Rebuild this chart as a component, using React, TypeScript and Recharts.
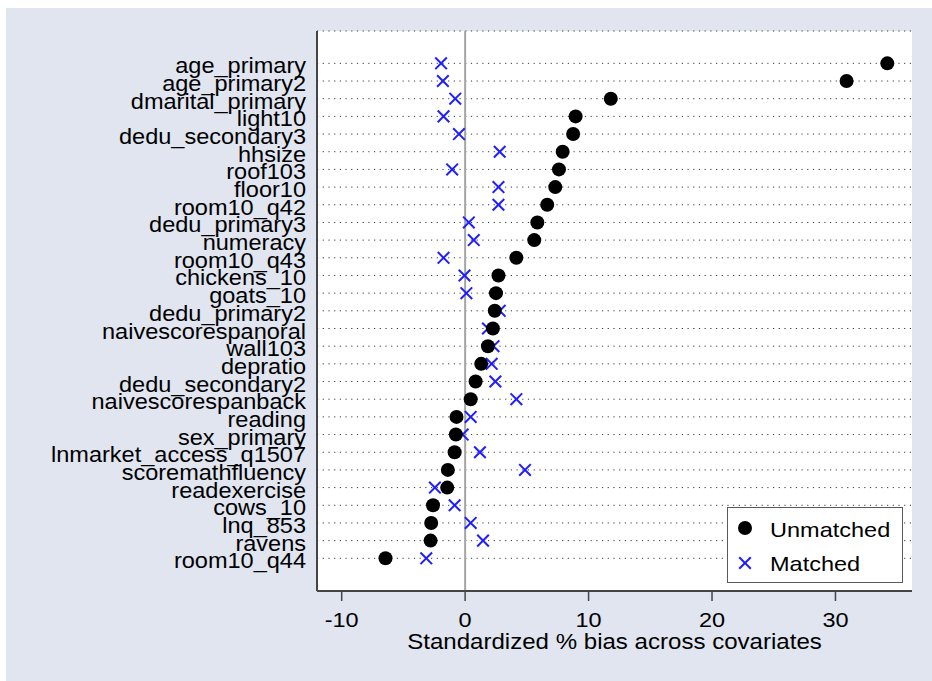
import {
  ScatterChart,
  Scatter,
  XAxis,
  YAxis,
  CartesianGrid,
  ReferenceLine,
  Legend,
} from 'recharts';

// covariates, top to bottom
const covariates = [
  'age_primary', 'age_primary2', 'dmarital_primary', 'light10', 'dedu_secondary3',
  'hhsize', 'roof103', 'floor10', 'room10_q42', 'dedu_primary3', 'numeracy',
  'room10_q43', 'chickens_10', 'goats_10', 'dedu_primary2', 'naivescorespanoral',
  'wall103', 'depratio', 'dedu_secondary2', 'naivescorespanback', 'reading',
  'sex_primary', 'lnmarket_access_q1507', 'scoremathfluency', 'readexercise',
  'cows_10', 'lnq_853', 'ravens', 'room10_q44',
];

const unmatchedBias = [
  34.2, 30.9, 11.8, 8.95, 8.75, 7.9, 7.6, 7.3, 6.65, 5.85, 5.6, 4.15, 2.7, 2.5,
  2.4, 2.25, 1.85, 1.3, 0.85, 0.45, -0.7, -0.75, -0.85, -1.4, -1.45, -2.6, -2.75,
  -2.8, -6.45,
];

const matchedBias = [
  -1.95, -1.8, -0.8, -1.75, -0.5, 2.8, -1.05, 2.7, 2.7, 0.3, 0.7, -1.75, -0.05,
  0.1, 2.8, 1.85, 2.3, 2.15, 2.45, 4.15, 0.45, -0.2, 1.2, 4.85, -2.45, -0.85, 0.45,
  1.45, -3.15,
];

const xTicks = [-10, 0, 10, 20, 30];
const rowTicks = covariates.map((_, i) => i);

const unmatchedData = covariates.map((name, i) => ({ name, row: i, value: unmatchedBias[i] }));
const matchedData = covariates.map((name, i) => ({ name, row: i, value: matchedBias[i] }));

const FONT = '"Liberation Sans", Arial, sans-serif';
const BLUE = '#1e1eff';
const AXIS = '#454545';

function Dot({ cx, cy }: any) {
  return <circle cx={cx} cy={cy} r={7} fill="#000" />;
}

function Cross({ cx, cy }: any) {
  const s = 5.8;
  return (
    <g stroke={BLUE} strokeWidth={2}>
      <line x1={cx - s} y1={cy - s} x2={cx + s} y2={cy + s} />
      <line x1={cx - s} y1={cy + s} x2={cx + s} y2={cy - s} />
    </g>
  );
}

function CovariateTick({ x, y, payload }: any) {
  return (
    <text
      transform={`translate(${x - 11},${y + 10}) scale(1.07,1)`}
      textAnchor="end"
      fontSize={22}
      fontFamily={FONT}
      fill="#000"
    >
      {covariates[payload.value]}
    </text>
  );
}

function BiasTick({ x, y, payload }: any) {
  return (
    <text
      transform={`translate(${x},${y + 26}) scale(1.12,1)`}
      textAnchor="middle"
      fontSize={21}
      fontFamily={FONT}
      fill="#000"
    >
      {payload.value}
    </text>
  );
}

function AxisTitle({ viewBox }: any) {
  return (
    <text
      transform={`translate(${viewBox.x + viewBox.width / 2},${viewBox.y + 58}) scale(1.12,1)`}
      textAnchor="middle"
      fontSize={21.5}
      fontFamily={FONT}
      fill="#000"
    >
      Standardized % bias across covariates
    </text>
  );
}

const legendItems = [
  { name: 'Unmatched', Marker: Dot },
  { name: 'Matched', Marker: Cross },
];

function LegendBox() {
  return (
    <div
      style={{
        width: 176,
        height: 76,
        boxSizing: 'border-box',
        background: '#fff',
        border: '1.5px solid #5a5a5a',
      }}
    >
      <svg width={173} height={73} style={{ display: 'block' }}>
        {legendItems.map(({ name, Marker }, i) => (
          <g key={name}>
            <Marker cx={17} cy={20 + i * 35} />
            <text
              transform={`translate(42,${28.5 + i * 34.5}) scale(1.12,1)`}
              fontSize={21}
              fontFamily={FONT}
              fill="#000"
            >
              {name}
            </text>
          </g>
        ))}
      </svg>
    </div>
  );
}

export default function App() {
  return (
    <div style={{ position: 'absolute', left: 0, top: 0, width: 932, height: 681, background: '#fff' }}>
      <div style={{ position: 'absolute', left: 6, top: 8, right: 0, bottom: 0, background: '#e0e5f0' }} />
      <div style={{ position: 'absolute', left: 0, top: 0 }}>
        <ScatterChart width={932} height={681} margin={{ top: 31, right: 20, bottom: 0, left: 17 }}>
          <CartesianGrid
            vertical={false}
            fill="#fff"
            stroke="#3a3a3a"
            strokeDasharray="1.2 4.5"
          />
          <XAxis
            type="number"
            dataKey="value"
            domain={[-12, 36.2]}
            ticks={xTicks}
            height={90}
            stroke={AXIS}
            axisLine={{ stroke: AXIS, strokeWidth: 2 }}
            tickLine={{ stroke: AXIS, strokeWidth: 1.5 }}
            tickSize={10}
            tickMargin={0}
            tick={<BiasTick />}
            label={AxisTitle}
          />
          <YAxis
            type="number"
            dataKey="row"
            domain={[-1.83, 29.85]}
            reversed
            ticks={rowTicks}
            interval={0}
            width={300}
            axisLine={{ stroke: AXIS, strokeWidth: 2 }}
            tickLine={false}
            tickSize={0}
            tickMargin={0}
            tick={<CovariateTick />}
          />
          <ReferenceLine x={0} stroke="#a5a5a5" strokeWidth={2} />
          <Legend
            layout="vertical"
            align="center"
            verticalAlign="middle"
            content={<LegendBox />}
            wrapperStyle={{ left: 727, top: 507, width: 176, height: 76 }}
          />
          <Scatter name="Matched" data={matchedData} shape={Cross} isAnimationActive={false} />
          <Scatter name="Unmatched" data={unmatchedData} shape={Dot} isAnimationActive={false} />
        </ScatterChart>
      </div>
    </div>
  );
}
